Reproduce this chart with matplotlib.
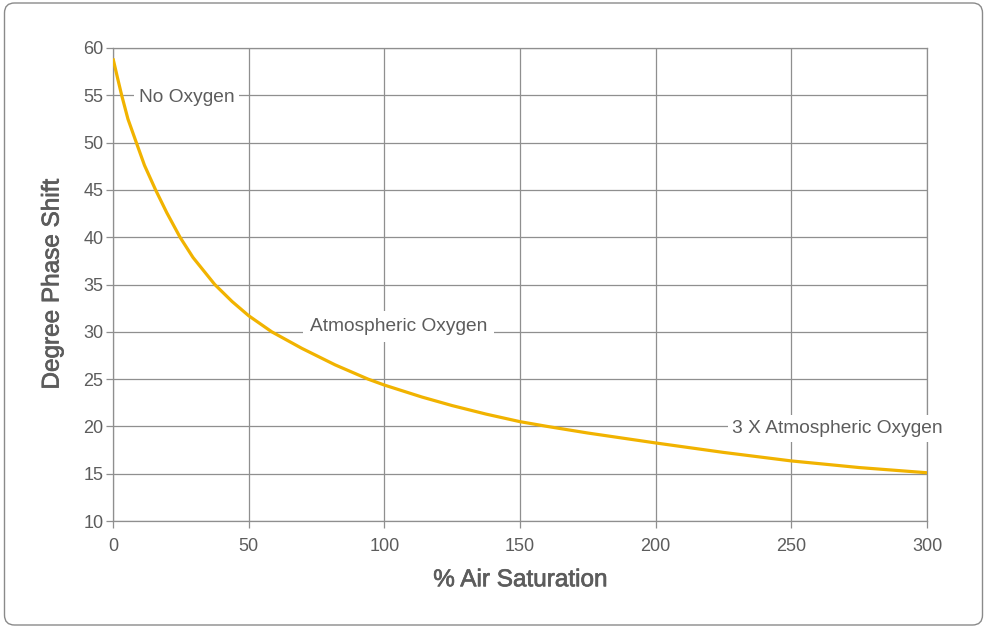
'''Phase shift vs. air saturation curve, redrawn with matplotlib'''

import matplotlib
matplotlib.use('Agg')
from matplotlib import pyplot as plt
from matplotlib import patheffects
from matplotlib.patches import FancyBboxPatch
from matplotlib.transforms import IdentityTransform

# values
air_saturation = [0, 1.7, 3.2, 5.5, 8.6, 11.6, 15.7, 19.8, 24.7, 29.5, 37.5,
                  43.9, 50, 58.5, 69.6, 81.9, 94, 100, 113.9, 125, 137.5, 150,
                  160, 175, 200, 225, 250, 275, 300]
phase_shift = [58.9, 56.8, 55, 52.5, 50, 47.6, 45, 42.6, 40, 37.85, 35,
               33.2, 31.7, 30, 28.25, 26.5, 25, 24.37, 23.1, 22.2, 21.3, 20.5,
               20, 19.3, 18.25, 17.25, 16.35, 15.65, 15.1]

x_ticks = [0, 50, 100, 150, 200, 250, 300]
y_ticks = [10, 15, 20, 25, 30, 35, 40, 45, 50, 55, 60]

# (text, x, y, vertical placement)
labels = [
    ('No Oxygen', 27.1, 55, 'centre'),
    ('Atmospheric Oxygen', 105.2, 30, 'above'),
    ('3 X Atmospheric Oxygen', 267.1, 20, 'centre'),
]

curve_colour = '#F1B300'
grid_colour = '#8f8f8f'
text_colour = '#5c5c5c'

plt.rcParams['font.family'] = ['Liberation Sans', 'DejaVu Sans']

fig = plt.figure(figsize=(9.87, 6.27), dpi=100)
ax = fig.add_axes([113 / 987, 1 - 521 / 627, 814 / 987, 473 / 627])

ax.plot(air_saturation, phase_shift, color=curve_colour, lw=2.3,
        solid_capstyle='butt', solid_joinstyle='round', zorder=3)

ax.set_xlim(0, 300)
ax.set_ylim(10, 60)
ax.set_xticks(x_ticks)
ax.set_yticks(y_ticks)
ax.grid(True, color=grid_colour, lw=0.9)
ax.set_axisbelow(True)
for spine in ax.spines.values():
  spine.set_color(grid_colour)
  spine.set_linewidth(0.9)
ax.tick_params(axis='both', colors=grid_colour, width=0.9, labelcolor=text_colour,
               labelsize=13)
ax.tick_params(axis='x', length=5, pad=7)
ax.tick_params(axis='y', length=5, pad=2)

medium = [patheffects.withStroke(linewidth=0.5, foreground=text_colour)]
ax.set_xlabel('% Air Saturation', fontsize=17.5, color=text_colour, labelpad=10.5,
              path_effects=medium)
ax.set_ylabel('Degree Phase Shift', fontsize=17.5, color=text_colour, labelpad=14,
              path_effects=medium)

for text, x, y, place in labels:
  if place == 'centre':
    offset, pad = -4.9, 0.25
  else:
    offset, pad = 0.5, 0.35
  ax.annotate(text, xy=(x, y), xytext=(0, offset), textcoords='offset points',
              ha='center', va='baseline', fontsize=13.8, color=text_colour,
              zorder=4, annotation_clip=False,
              bbox=dict(boxstyle=f'square,pad={pad}', facecolor='white',
                        edgecolor='none'))

# rounded frame round the whole picture, in pixels
frame = FancyBboxPatch((4.5, 2), 978, 622, boxstyle='round,pad=0,rounding_size=10',
                       transform=IdentityTransform(), facecolor='none',
                       edgecolor='#8a8a8a', lw=1.0)
fig.patches.append(frame)

fig.savefig('out.png', dpi=100)
